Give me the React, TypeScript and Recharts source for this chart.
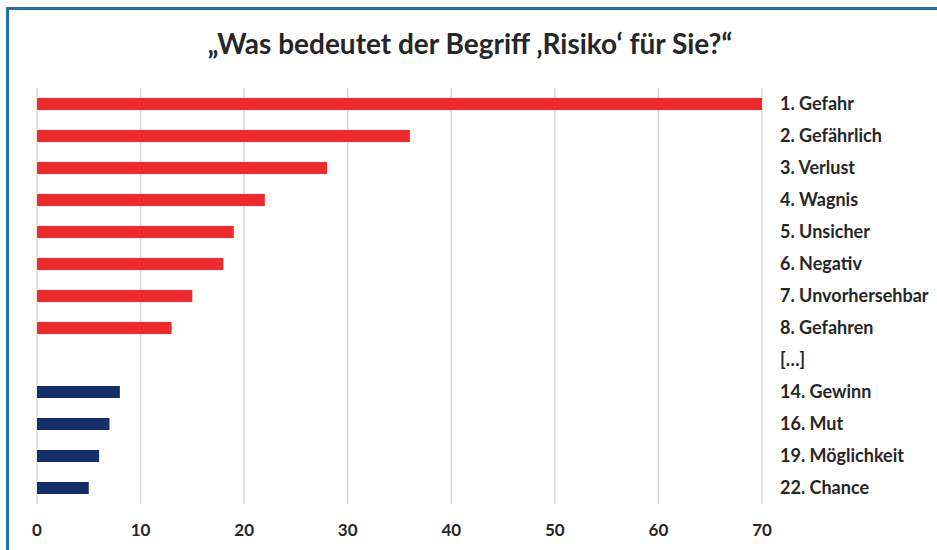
import React from 'react'
import { BarChart, Bar, XAxis, YAxis, CartesianGrid, Cell } from 'recharts'

const categories = [
  '1. Gefahr',
  '2. Gefährlich',
  '3. Verlust',
  '4. Wagnis',
  '5. Unsicher',
  '6. Negativ',
  '7. Unvorhersehbar',
  '8. Gefahren',
  '[…]',
  '14. Gewinn',
  '16. Mut',
  '19. Möglichkeit',
  '22. Chance',
]
const counts: (number | null)[] = [70, 36, 28, 22, 19, 18, 15, 13, null, 8, 7, 6, 5]
const sentiment = ['neg', 'neg', 'neg', 'neg', 'neg', 'neg', 'neg', 'neg', '', 'pos', 'pos', 'pos', 'pos']
const xTicks = [0, 10, 20, 30, 40, 50, 60, 70]

const TITLE = '„Was bedeutet der Begriff ‚Risiko‘ für Sie?“'
const FONT = 'Lato, "Open Sans", sans-serif'
const TEXT = '#262626'
const COLORS: Record<string, string> = { neg: '#ee2a2f', pos: '#152f6b', '': '#ffffff' }

const data = categories.map((name, i) => ({ name, value: counts[i], group: sentiment[i] }))

export default function App() {
  return (
    <div style={{ position: 'absolute', left: 0, top: 0, width: 937, height: 550, overflow: 'hidden', background: '#fff' }}>
      {/* blauer Rahmen, rechts und unten abgeschnitten */}
      <div
        style={{
          position: 'absolute',
          left: 6,
          top: 7,
          width: 1000,
          height: 600,
          borderLeft: '3px solid #1f6fb5',
          borderTop: '3px solid #1f6fb5',
        }}
      />
      <div
        style={{
          position: 'absolute',
          left: 0,
          top: 26,
          width: 940,
          textAlign: 'center',
          fontFamily: FONT,
          fontWeight: 700,
          fontSize: 28,
          color: TEXT,
        }}
      >
        {TITLE}
      </div>
      <div style={{ position: 'absolute', left: 0, top: 0 }}>
        <BarChart
          width={937}
          height={550}
          data={data}
          layout="vertical"
          margin={{ top: 88, right: 0, bottom: 0, left: 37 }}
          barCategoryGap={0}
        >
          <CartesianGrid horizontal={false} stroke="#d9d9d9" strokeWidth={1.5} />
          <XAxis
            type="number"
            domain={[0, 70]}
            ticks={xTicks}
            axisLine={false}
            tickLine={false}
            tickSize={0}
            tickMargin={20}
            height={46}
            interval={0}
            tick={{ fill: TEXT, fontSize: 17, fontWeight: 700, fontFamily: FONT }}
          />
          <YAxis
            type="category"
            dataKey="name"
            orientation="right"
            width={175}
            axisLine={false}
            tickLine={false}
            tickSize={0}
            tickMargin={18}
            interval={0}
            tick={{ fill: TEXT, fontSize: 18, fontWeight: 700, fontFamily: FONT, textAnchor: 'start' }}
          />
          <Bar dataKey="value" barSize={12} isAnimationActive={false}>
            {data.map((d, i) => (
              <Cell key={`cell-${i}`} fill={COLORS[d.group]} />
            ))}
          </Bar>
        </BarChart>
      </div>
    </div>
  )
}
